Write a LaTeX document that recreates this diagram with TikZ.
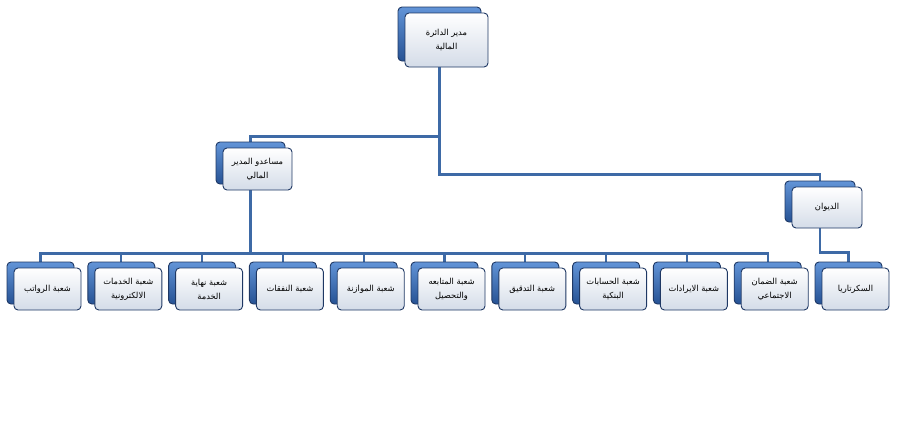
\documentclass[tikz,border=0pt]{standalone}
\usepackage{fontspec}
\newfontfamily\arabicfont[Script=Arabic]{DejaVu Sans}
\TeXXeTstate=1
\newcommand{\artext}[1]{\beginR#1\endR}
\usepackage{xcolor}
\definecolor{linkblue}{RGB}{62,106,166}
\definecolor{backtop}{RGB}{98,148,215}
\definecolor{backbot}{RGB}{38,82,148}
\definecolor{edgenavy}{RGB}{31,56,100}
\definecolor{boxbot}{RGB}{212,220,232}
\usepackage{tikz}
\usetikzlibrary{positioning, shadows, backgrounds}

\begin{document}
\begin{tikzpicture}[x=1pt, y=1pt,
  unit/.style={draw=edgenavy, line width=0.9pt, rounded corners=4pt, top color=white, bottom color=boxbot,
    align=center, inner sep=2pt, font=\arabicfont\fontsize{8.3}{14}\selectfont,
    general shadow={shadow xshift=-7pt, shadow yshift=6pt, draw=edgenavy, line width=0.9pt, top color=backtop, bottom color=backbot}},
  sub/.style={unit, minimum width=67pt, minimum height=42pt},
  link/.style={draw=linkblue, line width=2.3pt},
  back/.style={xshift=-7pt, yshift=6pt}]

  \useasboundingbox (0,0) rectangle (897,-439);

  \node[unit, minimum width=83pt, minimum height=54pt] (dir) at (446.5,-40) {\artext{مدير الدائرة}\\\artext{المالية}};
  \node[unit, minimum width=69pt, minimum height=42pt] (asst) at (257.5,-169) {\artext{مساعدو المدير}\\\artext{المالي}};
  \node[unit, minimum width=70pt, minimum height=41pt] (diwan) at (827,-207.5) {\artext{الديوان}};

  \node[sub] (sRaw) at (47.5,-289) {\artext{شعبة الرواتب}};
  \node[sub, right=12.9pt of sRaw] (sElec) {\artext{شعبة الخدمات}\\\artext{الالكترونية}};
  \node[sub, right=12.9pt of sElec] (sEnd) {\artext{شعبة نهاية}\\\artext{الخدمة}};
  \node[sub, right=12.9pt of sEnd] (sExp) {\artext{شعبة النفقات}};
  \node[sub, right=12.9pt of sExp] (sBud) {\artext{شعبة الموازنة}};
  \node[sub, right=12.9pt of sBud] (sFollow) {\artext{شعبة المتابعه}\\\artext{والتحصيل}};
  \node[sub, right=12.9pt of sFollow] (sAudit) {\artext{شعبة التدقيق}};
  \node[sub, right=12.9pt of sAudit] (sBank) {\artext{شعبة الحسابات}\\\artext{البنكية}};
  \node[sub, right=12.9pt of sBank] (sRev) {\artext{شعبة الايرادات}};
  \node[sub, right=12.9pt of sRev] (sSoc) {\artext{شعبة الضمان}\\\artext{الاجتماعي}};
  \node[sub, right=12.9pt of sSoc] (sSec) {\artext{السكرتاريا}};

  \begin{scope}[on background layer]
    \draw[link] ([back]dir.south) -- ++(0,-113) -| ([back]diwan.north);
    \draw[link] ([back]dir.south) ++(0,-75) -| ([back]asst.north);
    \draw[link] ([back]asst.south) -- ++(0,-69) coordinate (bar);
    \draw[link] (bar) -| ([back]sRaw.north);
    \draw[link] (bar) -| ([back]sElec.north);
    \draw[link] (bar) -| ([back]sEnd.north);
    \draw[link] (bar) -| ([back]sExp.north);
    \draw[link] (bar) -| ([back]sBud.north);
    \draw[link] (bar) -| ([back]sFollow.north);
    \draw[link] (bar) -| ([back]sAudit.north);
    \draw[link] (bar) -| ([back]sBank.north);
    \draw[link] (bar) -| ([back]sRev.north);
    \draw[link] (bar) -| ([back]sSoc.north);
    \draw[link] ([back]diwan.south) -- ++(0,-30) -| ([back]sSec.north);
  \end{scope}
\end{tikzpicture}
\end{document}
